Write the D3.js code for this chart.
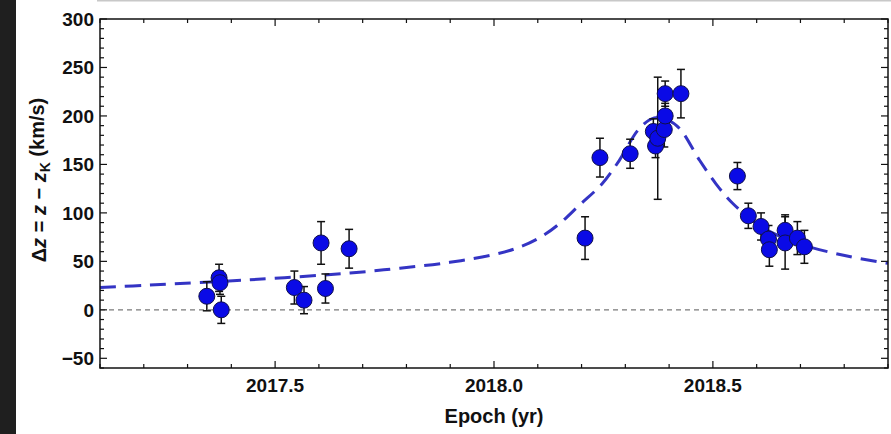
<!DOCTYPE html>
<html>
<head>
<meta charset="utf-8">
<script src="https://cdn.jsdelivr.net/npm/d3@7"></script>
<style>
  html, body { margin: 0; padding: 0; background: #fff; }
  svg { display: block; }
  text { font-family: "Liberation Sans", Arial, sans-serif; font-weight: bold; fill: #111; }
</style>
</head>
<body>
<svg id="chart" width="891" height="434"></svg>
<script>
// Measured velocity offsets (epoch in years, Δz in km/s, 1σ error)
const epochs = [2017.344, 2017.372, 2017.374, 2017.377, 2017.544, 2017.566, 2017.605, 2017.615,
                2017.669, 2018.208, 2018.242, 2018.311, 2018.364, 2018.369, 2018.374, 2018.389,
                2018.391, 2018.391, 2018.427, 2018.556, 2018.581, 2018.610, 2018.627, 2018.629,
                2018.665, 2018.665, 2018.693, 2018.709];
const dz = [14, 33, 28, 0, 23, 10, 69, 22,
            63, 74, 157, 161, 184, 169, 177, 186,
            200, 223, 223, 138, 97, 86, 73, 62,
            82, 69, 74, 65];
const dzErr = [15, 14, 12, 14, 17, 14, 22, 15,
               20, 22, 20, 15, 13, 12, 63, 18,
               13, 13, 25, 14, 13, 14, 14, 17,
               16, 27, 17, 17];

// Model curve samples (epoch, Δz)
const modelEpoch = [2017.10, 2017.214, 2017.443, 2017.671, 2017.785, 2017.899, 2018.00, 2018.06,
                    2018.11, 2018.15, 2018.195, 2018.247, 2018.286, 2018.332, 2018.366, 2018.396,
                    2018.424, 2018.470, 2018.507, 2018.545, 2018.606, 2018.663, 2018.720, 2018.812,
                    2018.90];
const modelDz = [23, 25.6, 31, 38, 43, 49, 57, 65,
                 76, 89, 108, 130, 154, 187, 198, 196,
                 187, 154, 130, 110, 87, 74, 65, 55,
                 48];

const xTicks = [2017.5, 2018.0, 2018.5];
const yTicks = [-50, 0, 50, 100, 150, 200, 250, 300];

const svg = d3.select("#chart");
const W = 891, H = 434;
const pLeft = 100, pRight = 888, pTop = 19, pBottom = 368;

// Dark strip at the page edge and thin rule across the top
svg.append("rect").attr("x", 0).attr("y", 0).attr("width", 16).attr("height", H).attr("fill", "#1f1f1f");
svg.append("rect").attr("x", 97).attr("y", 0).attr("width", W - 97).attr("height", 1.5).attr("fill", "#c8c8c8");

const x = d3.scaleLinear().domain([2017.1, 2018.9]).range([pLeft, pRight]);
const y = d3.scaleLinear().domain([-60, 300]).range([pBottom, pTop]);

const plot = svg.append("g");

// Zero reference line
plot.append("line")
  .attr("x1", pLeft).attr("x2", pRight)
  .attr("y1", y(0)).attr("y2", y(0))
  .attr("stroke", "#7a7a7a").attr("stroke-width", 1.2)
  .attr("stroke-dasharray", "5,4");

// Model curve
const line = d3.line().x((d, i) => x(modelEpoch[i])).y(d => y(d)).curve(d3.curveCatmullRom.alpha(0.5));
plot.append("path")
  .attr("d", line(modelDz))
  .attr("fill", "none")
  .attr("stroke", "#3434c4")
  .attr("stroke-width", 3)
  .attr("stroke-dasharray", "16,9");

// Error bars
const bars = plot.append("g").attr("stroke", "#111").attr("stroke-width", 1.5);
epochs.forEach((t, i) => {
  const cx = x(t), y1 = y(dz[i] + dzErr[i]), y0 = y(dz[i] - dzErr[i]);
  bars.append("line").attr("x1", cx).attr("x2", cx).attr("y1", y1).attr("y2", y0);
  bars.append("line").attr("x1", cx - 4).attr("x2", cx + 4).attr("y1", y1).attr("y2", y1);
  bars.append("line").attr("x1", cx - 4).attr("x2", cx + 4).attr("y1", y0).attr("y2", y0);
});

// Data points
plot.append("g").selectAll("circle")
  .data(epochs)
  .join("circle")
  .attr("cx", d => x(d))
  .attr("cy", (d, i) => y(dz[i]))
  .attr("r", 8)
  .attr("fill", "#0a0ae6")
  .attr("stroke", "#10104a")
  .attr("stroke-width", 1);

// Frame with inward ticks on all sides
const frame = svg.append("g");
frame.append("rect")
  .attr("x", pLeft).attr("y", pTop)
  .attr("width", pRight - pLeft).attr("height", pBottom - pTop)
  .attr("fill", "none").attr("stroke", "#111").attr("stroke-width", 1.5);

const xMinor = d3.range(2017.1, 2018.9001, 0.1).map(v => +v.toFixed(1));
const yMinor = d3.range(-60, 300.001, 10);

const tk = frame.append("g").attr("stroke", "#111").attr("stroke-width", 1.2);
xMinor.forEach(v => {
  const major = xTicks.some(m => Math.abs(m - v) < 1e-6);
  const len = major ? 7 : 4;
  tk.append("line").attr("x1", x(v)).attr("x2", x(v)).attr("y1", pBottom).attr("y2", pBottom - len);
  tk.append("line").attr("x1", x(v)).attr("x2", x(v)).attr("y1", pTop).attr("y2", pTop + len);
});
yMinor.forEach(v => {
  const major = yTicks.includes(v);
  const len = major ? 7 : 4;
  tk.append("line").attr("x1", pLeft).attr("x2", pLeft + len).attr("y1", y(v)).attr("y2", y(v));
  tk.append("line").attr("x1", pRight).attr("x2", pRight - len).attr("y1", y(v)).attr("y2", y(v));
});

// Tick labels
svg.append("g").selectAll("text")
  .data(yTicks)
  .join("text")
  .attr("x", 94)
  .attr("y", d => y(d))
  .attr("dy", "0.36em")
  .attr("text-anchor", "end")
  .attr("font-size", 19)
  .text(d => d < 0 ? "\u2212" + Math.abs(d) : d);

svg.append("g").selectAll("text")
  .data(xTicks)
  .join("text")
  .attr("x", d => x(d))
  .attr("y", 392)
  .attr("text-anchor", "middle")
  .attr("font-size", 19)
  .text(d => d.toFixed(1));

// Axis titles
svg.append("text")
  .attr("x", x(2018.0))
  .attr("y", 423)
  .attr("text-anchor", "middle")
  .attr("font-size", 20)
  .text("Epoch (yr)");

const yt = svg.append("text")
  .attr("transform", "translate(46,180) rotate(-90)")
  .attr("text-anchor", "middle")
  .attr("font-size", 20);
yt.append("tspan").text("\u0394");
yt.append("tspan").attr("font-style", "italic").text("z");
yt.append("tspan").text(" = ");
yt.append("tspan").attr("font-style", "italic").text("z");
yt.append("tspan").text(" \u2212 ");
yt.append("tspan").attr("font-style", "italic").text("z");
yt.append("tspan").attr("font-size", 14).attr("dy", "0.3em").text("K");
yt.append("tspan").attr("dy", "-0.3em").text(" (km/s)");
</script>
</body>
</html>
